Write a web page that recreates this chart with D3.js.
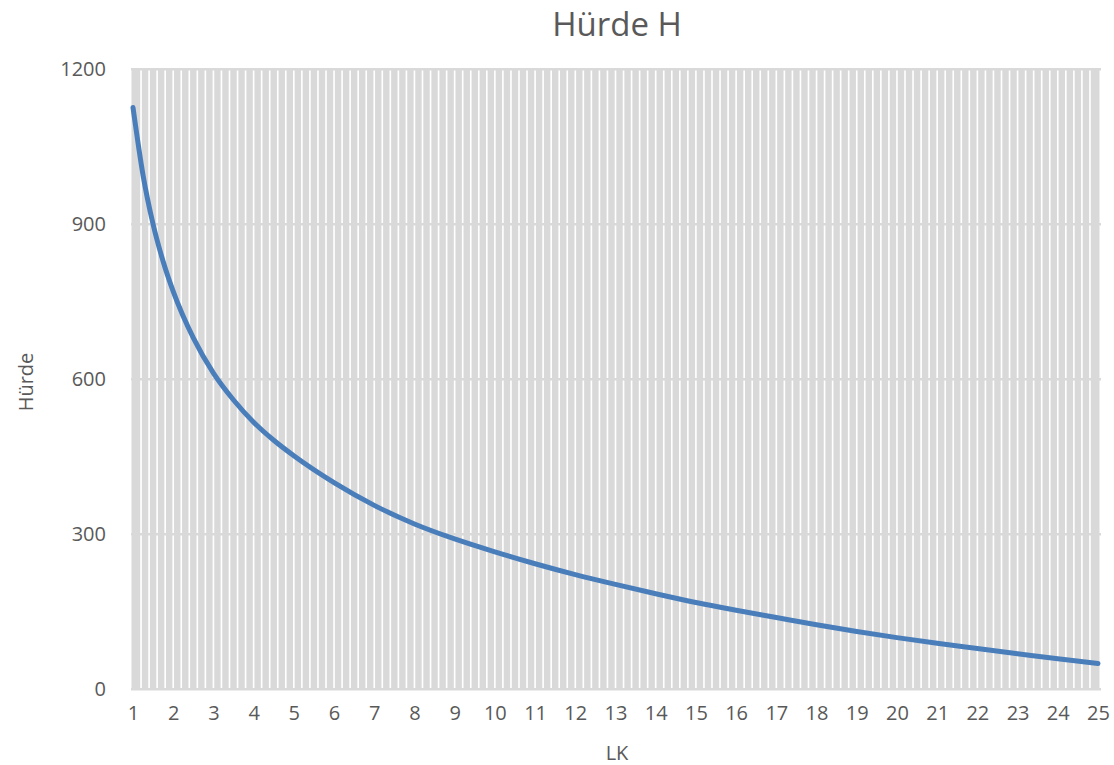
<!DOCTYPE html>
<html>
<head>
<meta charset="utf-8">
<script src="https://cdn.jsdelivr.net/npm/d3@7"></script>
<style>
  body { margin: 0; background: #fff; }
  text { font-family: "Open Sans", sans-serif; fill: #595959; }
</style>
</head>
<body>
<div class="svgtarget"></div>
<script>
// values
var lk     = [1, 1.25, 1.5, 1.75, 2, 2.5, 3, 3.5, 4, 4.5, 5, 6, 7, 8, 9, 10, 11, 12, 13, 14, 15, 16, 17, 18, 19, 20, 21, 22, 23, 24, 25];
var huerde = [1126, 995, 900, 828, 770, 680, 612, 560, 517, 482, 452, 400, 356, 320, 291, 266, 243, 222, 203, 185, 168, 153, 139, 125, 112, 100, 89, 79, 69, 59, 50];
var xTicks = d3.range(1, 26);
var yTicks = [0, 300, 600, 900, 1200];

var W = 1114, H = 765;
var svg = d3.select(".svgtarget").append("svg")
    .attr("width", W).attr("height", H);

var x = d3.scaleLinear().domain([1, 25]).range([133, 1098]);
var y = d3.scaleLinear().domain([0, 1200]).range([689.3, 69.3]);

// vertical grid: bands between the categories
var bands = d3.range(1.1, 25, 0.2);
svg.append("g").selectAll("line").data(bands).enter().append("line")
    .attr("x1", d => x(d)).attr("x2", d => x(d))
    .attr("y1", y(1200)).attr("y2", y(0))
    .attr("stroke", "#d9d9d9").attr("stroke-width", 6.4);
svg.append("g").selectAll("line").data([1, 25]).enter().append("line")
    .attr("x1", d => x(d)).attr("x2", d => x(d))
    .attr("y1", y(1200)).attr("y2", y(0))
    .attr("stroke", "#d9d9d9").attr("stroke-width", 3);

// horizontal grid
svg.append("g").selectAll("line").data(yTicks).enter().append("line")
    .attr("x1", 131).attr("x2", 1101)
    .attr("y1", d => y(d)).attr("y2", d => y(d))
    .attr("stroke", "#d9d9d9").attr("stroke-width", 2.5);

// axes labels
var yAxis = svg.append("g")
    .attr("transform", "translate(106,0)")
    .call(d3.axisLeft(y).tickValues(yTicks).tickSize(0).tickPadding(0).tickFormat(d3.format("d")));
yAxis.select(".domain").remove();
yAxis.selectAll("text").style("font-size", "20px").attr("fill", "#595959");

var xAxis = svg.append("g")
    .attr("transform", "translate(0,706)")
    .call(d3.axisBottom(x).tickValues(xTicks).tickSize(0).tickPadding(0).tickFormat(d3.format("d")));
xAxis.select(".domain").remove();
xAxis.selectAll("text").style("font-size", "20px").attr("fill", "#595959");

// curve
var pts = lk.map((v, i) => [v, huerde[i]]);
svg.append("path")
    .datum(pts)
    .attr("fill", "none")
    .attr("stroke", "#4a7ebb")
    .attr("stroke-width", 5)
    .attr("stroke-linecap", "round")
    .attr("d", d3.line().x(d => x(d[0])).y(d => y(d[1])).curve(d3.curveMonotoneX));

// titles
svg.append("text")
    .attr("x", 617).attr("y", 36)
    .attr("text-anchor", "middle")
    .style("font-size", "33px")
    .text("Hürde H");

svg.append("text")
    .attr("x", 617).attr("y", 760)
    .attr("text-anchor", "middle")
    .style("font-size", "20px")
    .text("LK");

svg.append("text")
    .attr("transform", "translate(33,382) rotate(-90)")
    .attr("text-anchor", "middle")
    .style("font-size", "20px")
    .text("Hürde");
</script>
</body>
</html>
